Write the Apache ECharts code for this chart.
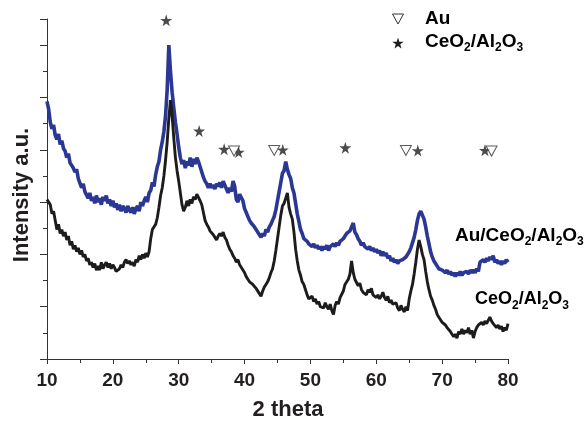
<!DOCTYPE html>
<html>
<head>
<meta charset="utf-8">
<script src="https://cdn.jsdelivr.net/npm/echarts@6/dist/echarts.min.js"></script>
<style>html,body{margin:0;padding:0;background:#fff;}#c{width:586px;height:421px;}</style>
</head>
<body>
<div id="c"></div>
<script>
// 2-theta sampling grid: 10 to 80 deg, step 0.25
const thetaStart = 10, thetaStep = 0.25;

const auCeAl = [
  9.85, 9.55, 9.05, 8.80,
  8.95, 8.55, 8.40, 8.60,
  8.20, 8.35, 8.05, 7.95,
  7.70, 7.85, 7.50, 7.45,
  7.30, 7.15, 7.25, 6.90,
  6.85, 6.55, 6.70, 6.40,
  6.45, 6.15, 6.35, 6.05,
  6.20, 5.95, 6.25, 6.00,
  6.15, 5.90, 6.20, 6.05,
  6.25, 5.95, 6.10, 5.85,
  6.05, 5.80, 5.95, 5.70,
  5.90, 5.65, 5.85, 5.75,
  5.60, 5.85, 5.70, 5.60,
  5.80, 5.55, 5.75, 5.85,
  5.65, 6.00, 5.85, 6.05,
  6.20, 6.00, 6.35, 6.45,
  6.75, 6.60, 7.05, 7.35,
  7.55, 8.00, 8.30, 8.70,
  9.30, 10.30, 12.00, 11.00,
  10.20, 9.60, 9.05, 8.60,
  8.10, 7.70, 7.45, 7.60,
  7.30, 7.55, 7.40, 7.70,
  7.35, 7.65, 7.45, 7.70,
  7.55, 7.35, 7.15, 6.95,
  6.80, 6.70, 6.55, 6.70,
  6.55, 6.65, 6.50, 6.70,
  6.60, 6.75, 6.55, 6.80,
  6.65, 6.50, 6.35, 6.55,
  6.40, 6.80, 6.60, 6.10,
  6.00, 6.30, 6.35, 6.05,
  5.75, 5.60, 5.45, 5.30,
  5.20, 5.25, 5.05, 5.00,
  4.85, 4.75, 4.65, 4.80,
  4.70, 4.95, 4.85, 5.05,
  5.15, 5.30, 5.45, 5.70,
  6.05, 6.40, 6.75, 7.10,
  7.20, 7.55, 7.25, 7.05,
  6.90, 6.55, 6.35, 5.95,
  5.55, 5.25, 4.95, 4.80,
  4.60, 4.65, 4.50, 4.40,
  4.45, 4.30, 4.40, 4.25,
  4.35, 4.20, 4.30, 4.15,
  4.30, 4.20, 4.35, 4.15,
  4.30, 4.25, 4.40, 4.30,
  4.45, 4.35, 4.50, 4.55,
  4.60, 4.70, 4.80, 4.75,
  4.90, 4.95, 5.20, 4.85,
  4.75, 4.60, 4.50, 4.35,
  4.45, 4.30, 4.35, 4.20,
  4.30, 4.15, 4.25, 4.10,
  4.20, 4.05, 4.15, 3.95,
  4.10, 3.95, 4.05, 3.85,
  3.95, 3.75, 3.85, 3.70,
  3.80, 3.65, 3.75, 3.70,
  3.80, 3.75, 3.90, 3.95,
  4.10, 4.25, 4.45, 4.65,
  4.95, 5.30, 5.55, 5.65,
  5.50, 5.35, 5.05, 4.70,
  4.40, 4.10, 3.90, 3.75,
  3.65, 3.55, 3.45, 3.50,
  3.40, 3.45, 3.30, 3.40,
  3.25, 3.35, 3.20, 3.30,
  3.15, 3.30, 3.20, 3.35,
  3.20, 3.30, 3.25, 3.35,
  3.25, 3.40, 3.30, 3.40,
  3.30, 3.45, 3.35, 3.70,
  3.65, 3.80, 3.70, 3.85,
  3.75, 3.90, 3.80, 3.95,
  3.70, 3.80, 3.65, 3.75,
  3.60, 3.75, 3.65, 3.80,
  3.70
];

const ceAl = [
  6.10, 6.00, 5.90, 5.55,
  5.65, 5.30, 4.95, 5.15,
  4.80, 4.95, 4.70, 4.85,
  4.55, 4.70, 4.35, 4.50,
  4.20, 4.35, 4.10, 4.25,
  4.00, 4.15, 3.90, 4.00,
  3.75, 3.85, 3.60, 3.70,
  3.50, 3.65, 3.40, 3.55,
  3.40, 3.70, 3.45, 3.60,
  3.70, 3.50, 3.65, 3.45,
  3.60, 3.50, 3.35, 3.30,
  3.45, 3.60, 3.50, 3.70,
  3.80, 3.65, 3.75, 3.60,
  3.70, 3.55, 3.80, 3.70,
  3.95, 3.80, 4.00, 3.85,
  4.05, 3.90, 4.10, 4.60,
  4.95, 4.90, 5.15, 5.40,
  5.80, 6.25, 6.55, 7.00,
  7.60, 8.30, 9.20, 9.90,
  9.30, 8.45, 7.70, 7.20,
  6.80, 6.35, 5.90, 5.65,
  5.80, 6.05, 5.85, 6.10,
  5.95, 6.20, 6.10, 6.30,
  6.25, 6.05, 5.90, 5.60,
  5.30, 5.15, 5.05, 4.90,
  4.95, 4.75, 4.65, 4.55,
  4.70, 4.80, 4.70, 4.85,
  4.65, 4.55, 4.35, 4.20,
  4.10, 3.95, 3.85, 3.70,
  3.80, 3.60, 3.55, 3.40,
  3.30, 3.15, 3.05, 2.95,
  3.00, 2.85, 2.80, 2.70,
  2.65, 2.50, 2.40, 2.60,
  2.75, 2.85, 2.95, 3.10,
  3.30, 3.45, 3.75, 4.15,
  4.60, 5.05, 5.50, 5.85,
  5.95, 6.15, 6.35, 5.80,
  5.55, 5.35, 4.85, 4.20,
  3.75, 3.40, 3.20, 2.95,
  2.85, 2.65, 2.45, 2.30,
  2.25, 2.40, 2.20, 2.30,
  2.10, 2.20, 2.00, 2.05,
  1.95, 2.15, 2.00, 1.90,
  2.10, 1.85, 1.70, 2.05,
  2.20, 2.10, 2.35, 2.30,
  2.60, 2.85, 2.90, 3.05,
  3.25, 3.75, 3.30, 3.05,
  3.00, 2.80, 2.90, 2.65,
  2.55, 2.60, 2.45, 2.65,
  2.55, 2.70, 2.45, 2.50,
  2.35, 2.45, 2.30, 2.40,
  2.55, 2.35, 2.25, 2.40,
  2.15, 2.25, 2.10, 2.05,
  2.15, 1.95, 1.85, 2.05,
  1.90, 1.80, 2.00, 1.85,
  2.30, 2.60, 2.85, 3.25,
  3.70, 4.20, 4.55, 4.30,
  4.00, 3.80, 3.35, 2.95,
  2.65, 2.40, 2.25, 2.05,
  1.90, 1.70, 1.60, 1.50,
  1.40, 1.45, 1.30, 1.20,
  1.15, 1.05, 0.95, 0.85,
  0.95, 0.80, 1.05, 0.95,
  1.15, 0.95, 1.10, 1.00,
  1.20, 0.95, 1.10, 0.80,
  1.05, 1.20, 1.30, 1.25,
  1.40, 1.30, 1.45, 1.35,
  1.40, 1.60, 1.45, 1.35,
  1.40, 1.20, 1.30, 1.15,
  1.25, 1.05, 1.20, 1.10,
  1.35
];

// Reflection markers
const ceMarkX = [28.1, 33.1, 36.9, 39.1, 45.8, 55.3, 66.3, 76.5];
const ceMarkY = [12.95, 8.72, 8.02, 7.91, 8.0, 8.08, 7.97, 7.98];
const auMarkX = [38.4, 44.5, 64.5, 77.5];
const auMarkY = [7.95, 7.97, 7.97, 7.95];

const xTicks = [10, 20, 30, 40, 50, 60, 70, 80];

const toPairs = arr => arr.map((v, i) => [thetaStart + i * thetaStep, v]);
const zip = (xs, ys) => xs.map((x, i) => [x, ys[i]]);

const STAR = 'path://M50,0 L61,35 L98,35 L68,57 L79,91 L50,70 L21,91 L32,57 L2,35 L39,35 Z';
const TRI = 'path://M0,0 L100,0 L50,90 Z';
const FONT = '"Liberation Sans", Arial, sans-serif';
const TXT = '#231f20';

const rich = {
  m: { fontSize: 19, fontWeight: 'bold', fontFamily: FONT, color: TXT, lineHeight: 20, verticalAlign: 'top' },
  s: { fontSize: 12, fontWeight: 'bold', fontFamily: FONT, color: TXT, lineHeight: 12, padding: [10, 0, 0, 0], verticalAlign: 'top' }
};
const richSmall = {
  m: { fontSize: 18, fontWeight: 'bold', fontFamily: FONT, color: TXT, lineHeight: 20, verticalAlign: 'top' },
  s: { fontSize: 12, fontWeight: 'bold', fontFamily: FONT, color: TXT, lineHeight: 12, padding: [10, 0, 0, 0], verticalAlign: 'top' }
};

const chart = echarts.init(document.getElementById('c'), null, { renderer: 'canvas' });
chart.setOption({
  animation: false,
  backgroundColor: '#ffffff',
  grid: { left: 47, right: 78, top: 19, bottom: 62 },
  xAxis: {
    type: 'value', min: 10, max: 80, interval: 10,
    axisLine: { show: true, lineStyle: { color: '#333', width: 1 } },
    axisTick: { show: true, inside: false, length: 5, lineStyle: { color: '#333' } },
    minorTick: { show: true, splitNumber: 2, length: 4, lineStyle: { color: '#333' } },
    splitLine: { show: false },
    axisLabel: {
      margin: 12, fontSize: 19, fontWeight: 'bold', fontFamily: FONT, color: TXT,
      formatter: v => (xTicks.indexOf(v) >= 0 ? String(v) : '')
    }
  },
  yAxis: [
    {
      type: 'value', min: 0, max: 13, interval: 1,
      axisLine: { show: true, lineStyle: { color: '#333', width: 1 } },
      axisTick: { show: true, inside: false, length: 4, lineStyle: { color: '#333' } },
      axisLabel: { show: false },
      splitLine: { show: false }
    },
    {
      type: 'value', min: 0, max: 13, interval: 2, position: 'left',
      axisLine: { show: false },
      axisTick: { show: true, inside: false, length: 7, lineStyle: { color: '#333' } },
      axisLabel: { show: false },
      splitLine: { show: false }
    }
  ],
  series: [
    {
      name: 'Au/CeO2/Al2O3', type: 'line', data: toPairs(auCeAl), showSymbol: false,
      lineStyle: { color: '#2a3794', width: 3.6 }, z: 2
    },
    {
      name: 'CeO2/Al2O3', type: 'line', data: toPairs(ceAl), showSymbol: false,
      lineStyle: { color: '#1c1c1c', width: 2.9 }, z: 3
    },
    {
      name: 'CeO2/Al2O3 ref', type: 'scatter', data: zip(ceMarkX, ceMarkY), clip: true,
      symbol: STAR, symbolSize: 12, itemStyle: { color: '#1e1e1e' }, z: 5
    },
    {
      name: 'Au ref', type: 'scatter', data: zip(auMarkX, auMarkY),
      symbol: TRI, symbolSize: [11, 10],
      itemStyle: { color: '#ffffff', borderColor: '#333', borderWidth: 1 }, z: 5
    }
  ],
  graphic: [
    { type: 'text', x: 22, y: 195, rotation: Math.PI / 2,
      style: { text: 'Intensity a.u.', fontSize: 22, fontWeight: 'bold', fontFamily: FONT, fill: TXT, align: 'center', verticalAlign: 'middle' } },
    { type: 'text', x: 288, y: 410,
      style: { text: '2 theta', fontSize: 22, fontWeight: 'bold', fontFamily: FONT, fill: TXT, align: 'center', verticalAlign: 'middle' } },
    // legend
    { type: 'polygon', shape: { points: [[392.5, 14], [403.5, 14], [398, 24]] },
      style: { fill: '#fff', stroke: '#333', lineWidth: 1 } },
    { type: 'polygon', shape: { points: [[398, 37.5], [399.3, 41.7], [403.8, 41.7], [400.2, 44.3], [401.5, 48.4], [398, 45.9], [394.5, 48.4], [395.8, 44.3], [392.2, 41.7], [396.7, 41.7]] },
      style: { fill: '#1e1e1e' } },
    { type: 'text', x: 425, y: 9,
      style: { text: '{m|Au}', rich: rich } },
    { type: 'text', x: 425, y: 32,
      style: { text: '{m|CeO}{s|2}{m|/Al}{s|2}{m|O}{s|3}', rich: rich } },
    // curve labels
    { type: 'text', x: 455, y: 226,
      style: { text: '{m|Au/CeO}{s|2}{m|/Al}{s|2}{m|O}{s|3}', rich: rich } },
    { type: 'text', x: 475, y: 290,
      style: { text: '{m|CeO}{s|2}{m|/Al}{s|2}{m|O}{s|3}', rich: richSmall } }
  ]
});
</script>
</body>
</html>
